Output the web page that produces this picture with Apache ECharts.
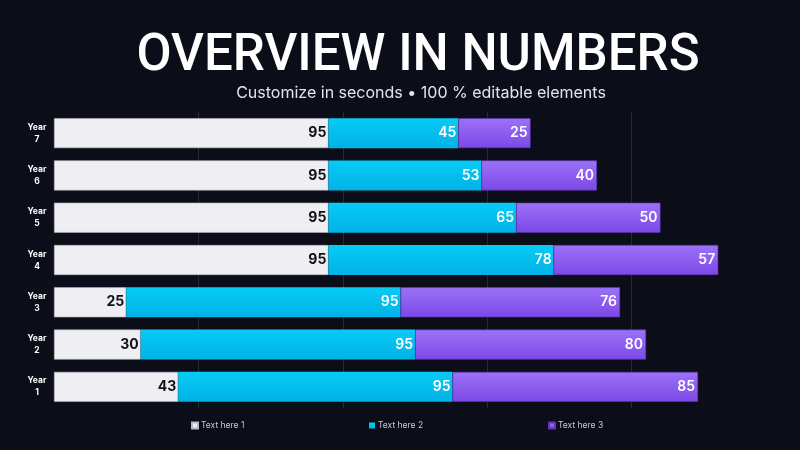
<!DOCTYPE html>
<html>
<head>
<meta charset="utf-8">
<script src="https://cdn.jsdelivr.net/npm/echarts@6/dist/echarts.min.js"></script>
<style>
  html, body { margin: 0; padding: 0; background: #0b0d18; }
  #main { width: 800px; height: 450px; }
</style>
</head>
<body>
<div id="main"></div>
<script>
var years = ['Year\n1', 'Year\n2', 'Year\n3', 'Year\n4', 'Year\n5', 'Year\n6', 'Year\n7'];
var seriesNames = ['Text here 1', 'Text here 2', 'Text here 3'];
var text1 = [43, 30, 25, 95, 95, 95, 95];
var text2 = [95, 95, 95, 78, 65, 53, 45];
var text3 = [85, 80, 76, 57, 50, 40, 25];

var myChart = echarts.init(document.getElementById('main'));

var font = 'Inter, "Noto Sans", sans-serif';

function grad(top, bottom) {
    return new echarts.graphic.LinearGradient(0, 0, 0, 1, [
        { offset: 0, color: top },
        { offset: 1, color: bottom }
    ]);
}

var option = {
    backgroundColor: '#0b0d18',
    color: ['#efeff3', '#08c4f2', '#8a5cf0'],
    title: [
        {
            text: 'OVERVIEW IN NUMBERS',
            left: 413,
            top: 27,
            textAlign: 'center',
            textStyle: { color: '#ffffff', fontFamily: 'Roboto, Inter, sans-serif', fontWeight: 500, fontSize: 51 }
        },
        {
            text: 'Customize in seconds \u2022 100 % editable elements',
            left: 416,
            top: 80,
            textAlign: 'center',
            textStyle: { color: '#e4e4ea', fontFamily: font, fontWeight: 400, fontSize: 16 }
        }
    ],
    legend: [
        { data: [seriesNames[0]], left: 186, top: 416 },
        { data: [seriesNames[1]], left: 364, top: 416 },
        { data: [seriesNames[2]], left: 543, top: 416 }
    ].map(function (l) {
        l.icon = 'rect';
        l.itemWidth = 6;
        l.itemHeight = 6;
        l.itemGap = 4;
        l.textStyle = { color: '#c8c8d0', fontFamily: font, fontSize: 8.5, padding: [0, 0, 0, -2] };
        return l;
    }),
    grid: { left: 54, right: 24, top: 112, bottom: 42 },
    xAxis: {
        type: 'value',
        min: 0,
        max: 250,
        interval: 50,
        axisLabel: { show: false },
        axisLine: { show: false },
        axisTick: { show: false },
        splitLine: {
            lineStyle: {
                color: ['transparent', '#272a35', '#272a35', '#272a35', '#272a35', 'transparent'],
                width: 1
            }
        }
    },
    yAxis: {
        type: 'category',
        data: years,
        axisLine: { show: false },
        axisTick: { show: false },
        axisLabel: {
            color: '#ffffff',
            fontFamily: font,
            fontWeight: 700,
            fontSize: 8.5,
            lineHeight: 12,
            align: 'center',
            margin: 17
        }
    },
    series: [
        {
            name: seriesNames[0],
            type: 'bar',
            stack: 'total',
            barWidth: 30,
            data: text1,
            itemStyle: { color: '#efeff3', borderColor: '#b8b8c0', borderWidth: 0.6 },
            label: {
                show: true, position: 'insideRight', distance: 2,
                color: '#111118', fontFamily: font, fontWeight: 700, fontSize: 14
            }
        },
        {
            name: seriesNames[1],
            type: 'bar',
            stack: 'total',
            data: text2,
            itemStyle: { color: grad('#08cbf6', '#00b2e6') },
            label: {
                show: true, position: 'insideRight', distance: 2,
                color: '#ffffff', fontFamily: font, fontWeight: 600, fontSize: 14
            }
        },
        {
            name: seriesNames[2],
            type: 'bar',
            stack: 'total',
            data: text3,
            itemStyle: { color: grad('#9c72f8', '#7c48e6'), borderColor: '#5f35b8', borderWidth: 0.6 },
            label: {
                show: true, position: 'insideRight', distance: 3,
                color: '#ffffff', fontFamily: font, fontWeight: 600, fontSize: 14
            }
        }
    ]
};

myChart.setOption(option);
window.addEventListener('resize', function () {
    myChart.resize();
});
</script>
</body>
</html>
